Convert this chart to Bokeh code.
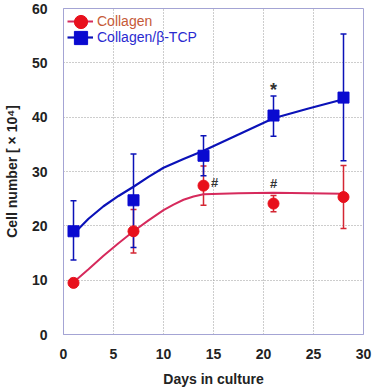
from bokeh.plotting import figure
from bokeh.models import ColumnDataSource, Whisker, TeeHead, Legend, LegendItem, FixedTicker, Range1d
from bokeh.core.properties import value
from bokeh.embed import file_html
from bokeh.resources import INLINE

# measured data
days = [1, 7, 14, 21, 28]
col_mean = [9.5, 19.0, 27.4, 24.1, 25.3]
col_err = [0.8, 4.0, 3.6, 1.5, 5.8]
tcp_mean = [19.0, 24.7, 32.9, 40.3, 43.6]
tcp_err_up = [5.6, 8.5, 3.7, 3.6, 11.7]
tcp_err_dn = [5.3, 8.7, 3.7, 3.8, 11.6]

# fitted curves
col_fit_x = [1, 2.5, 4, 5.5, 7, 8.5, 10, 11, 12, 13, 14, 17.5, 21, 24.5, 28]
col_fit_y = [9.6, 12.0, 14.5, 16.8, 19.0, 21.0, 22.9, 23.9, 24.8, 25.4, 25.8, 26.0, 26.1, 26.0, 25.9]
tcp_fit_x = [1, 2.5, 4, 5.5, 7, 8.5, 10, 12, 14, 17.5, 21, 24.5, 28]
tcp_fit_y = [18.5, 21.3, 23.6, 25.5, 27.2, 29.0, 30.7, 32.3, 33.8, 36.8, 39.8, 41.6, 43.3]

# significance marks
mark_x = [21, 15.1, 21]
mark_y = [45.0, 28.0, 27.8]
mark_t = ["*", "#", "#"]
mark_size = ["18px", "13px", "13px"]

x_ticks = [0, 5, 10, 15, 20, 25, 30]
y_ticks = [0, 10, 20, 30, 40, 50, 60]

RED = "#e8101c"
RED_LINE = "#d62a5c"
RED_ERR = "#d42633"
BLUE = "#0a0ad0"
BLUE_LINE = "#0b12b8"
FRAME = "#a4a4d4"

FW, FH = 300, 326
p = figure(frame_width=FW, frame_height=FH, output_backend="svg", toolbar_location=None,
           x_range=Range1d(0, 30), y_range=Range1d(0, 60),
           min_border_left=55, min_border_right=10, min_border_top=8, min_border_bottom=47)
p.background_fill_color = "white"
p.border_fill_color = "white"
p.outline_line_color = FRAME
p.outline_line_width = 1

for ax in (p.xaxis, p.yaxis):
    ax.axis_line_color = FRAME
    ax.major_tick_line_color = None
    ax.minor_tick_line_color = None
    ax.major_label_text_font = "Liberation Sans"
    ax.major_label_text_font_style = "bold"
    ax.major_label_text_font_size = "14px"
    ax.major_label_text_color = "#222222"
    ax.axis_label_text_font = "Liberation Sans"
    ax.axis_label_text_font_style = "bold"
    ax.axis_label_text_font_size = "14px"
    ax.axis_label_text_color = "#222222"

p.xaxis.ticker = FixedTicker(ticks=x_ticks)
p.yaxis.ticker = FixedTicker(ticks=y_ticks)
p.xaxis.major_label_standoff = 8
p.yaxis.major_label_standoff = 10
p.xaxis.axis_label = "Days in culture"
p.yaxis.axis_label = "Cell number [ × 10⁴]"
p.xaxis.axis_label_standoff = 9
p.yaxis.axis_label_standoff = 9

p.xgrid.grid_line_color = "#9a9a9a"
p.ygrid.grid_line_color = "#9a9a9a"
p.xgrid.grid_line_dash = "1 2"
p.ygrid.grid_line_dash = "1 2"

# error bars
src_c = ColumnDataSource(dict(x=days, y=col_mean,
                              lo=[m - e for m, e in zip(col_mean, col_err)],
                              hi=[m + e for m, e in zip(col_mean, col_err)]))
src_t = ColumnDataSource(dict(x=days, y=tcp_mean,
                              lo=[m - e for m, e in zip(tcp_mean, tcp_err_dn)],
                              hi=[m + e for m, e in zip(tcp_mean, tcp_err_up)]))

wc = Whisker(source=src_c, base="x", lower="lo", upper="hi", line_color=RED_ERR, line_width=1.5,
             upper_head=TeeHead(size=6, line_color=RED_ERR, line_width=1.5),
             lower_head=TeeHead(size=6, line_color=RED_ERR, line_width=1.5))
wt = Whisker(source=src_t, base="x", lower="lo", upper="hi", line_color=BLUE_LINE, line_width=1.5,
             upper_head=TeeHead(size=6, line_color=BLUE_LINE, line_width=1.5),
             lower_head=TeeHead(size=6, line_color=BLUE_LINE, line_width=1.5))
p.add_layout(wc)
p.add_layout(wt)

lc = p.line(col_fit_x, col_fit_y, line_color=RED_LINE, line_width=2)
lt = p.line(tcp_fit_x, tcp_fit_y, line_color=BLUE_LINE, line_width=2.2)

mc = p.scatter("x", "y", source=src_c, marker="circle", size=11, fill_color=RED, line_color=RED)
mt = p.scatter("x", "y", source=src_t, marker="square", size=11, fill_color=BLUE, line_color=BLUE)

p.text(mark_x, mark_y, text=mark_t, text_font=value("Liberation Sans"), text_font_style="bold",
       text_font_size=mark_size, text_color="#333333", text_align="center", text_baseline="middle")


def style(lg, color, gw, gh):
    lg.label_text_color = color
    lg.label_text_font = "Liberation Sans"
    lg.label_text_font_size = "14px"
    lg.glyph_width = gw
    lg.glyph_height = gh
    lg.label_height = gh
    lg.label_standoff = 4
    lg.padding = 0
    lg.spacing = 0
    lg.margin = 0
    lg.border_line_color = None
    lg.background_fill_alpha = 0
    lg.inactive_fill_alpha = 0


# legend: line + text, then a larger marker on top (marker legend size = 0.4*glyph box)
rows = [("Collagen", lc, mc, "#c65a38", 13), ("Collagen/β-TCP", lt, mt, "#2a2ad0", 29)]
for label, line_r, mark_r, col, cy in rows:
    lg_line = Legend(items=[LegendItem(label=label, renderers=[line_r])])
    style(lg_line, col, 26, 16)
    lg_line.location = (4, FH - cy - 8)
    p.add_layout(lg_line, "center")
    lg_mark = Legend(items=[LegendItem(label=" ", renderers=[mark_r])])
    style(lg_mark, col, 33, 33)
    lg_mark.location = (4 + 13 - 16.5, FH - cy - 16.5)
    p.add_layout(lg_mark, "center")

with open("out.html", "w") as f:
    f.write(file_html(p, INLINE))
